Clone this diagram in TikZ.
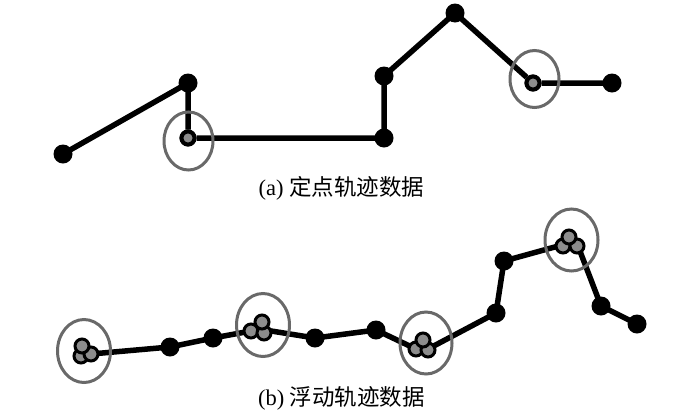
\documentclass[tikz,border=0pt]{standalone}
\usepackage{fontspec}
\setmainfont{Liberation Serif}
\newfontfamily\cjk{Noto Sans CJK SC}
\definecolor{ringgray}{RGB}{105,105,105}
\definecolor{ptgray}{RGB}{140,140,140}
\begin{document}
\begin{tikzpicture}[x = 1pt, y = -1pt, line width = 5pt]
    \tikzstyle{track} = [draw, line width = 5.5pt, line join = round]
    \tikzstyle{fixpt} = [fill = black, shape = circle, inner sep = 0pt, minimum size = 19pt]
    \tikzstyle{stoppt} = [draw = black, fill = ptgray, shape = circle, line width = 4pt, inner sep = 0pt, minimum size = 13pt]
    \tikzstyle{floatpt} = [draw = black, fill = ptgray, shape = circle, line width = 3pt, inner sep = 0pt, minimum size = 14pt]
    \tikzstyle{ring} = [draw = ringgray, line width = 3pt]
    \tikzstyle{caption} = [font = \fontsize{22.5}{26}\selectfont]
    \useasboundingbox (0,0) rectangle (700,413);

    % (a) fixed-point track
    \node[fixpt] (a1) at (63,154) {};
    \node[fixpt] (a2) at (188,83) {};
    \node[stoppt] (a3) at (188,138) {};
    \node[fixpt] (a4) at (384,138) {};
    \node[fixpt] (a5) at (384,76) {};
    \node[fixpt] (a6) at (455,13) {};
    \node[stoppt] (a7) at (533,83) {};
    \node[fixpt] (a8) at (612,83) {};

    \draw[track] (a1.center) -- (a2.center) -- (a3) -- (a4.center) -- (a5.center)
        -- (a6.center) -- (a7) -- (a8.center);
    \node[stoppt] at (a3) {};
    \node[stoppt] at (a7) {};
    \draw[ring] (188.5,141) ellipse (24.5 and 29);
    \draw[ring] (534.5,79) ellipse (24.5 and 28.5);

    \node[caption] (capa) at (341.5,188) {(a) {\cjk 定点轨迹数据}};

    % (b) floating track
    \node[fixpt] (b1) at (170,347) {};
    \node[fixpt] (b2) at (213,338) {};
    \node[fixpt] (b3) at (315,338) {};
    \node[fixpt] (b4) at (376,330) {};
    \node[fixpt] (b5) at (496,313) {};
    \node[fixpt] (b6) at (504,261) {};
    \node[fixpt] (b7) at (601,306) {};
    \node[fixpt] (b8) at (637,324) {};

    \coordinate (c1) at (91,354);
    \coordinate (c2in) at (251,331);
    \coordinate (c2out) at (265,330);
    \coordinate (c3in) at (416,349);
    \coordinate (c3out) at (428,349);
    \coordinate (c4in) at (562,245);
    \coordinate (c4out) at (578,246);

    \draw[track] (c1) -- (b1.center) -- (b2.center) -- (c2in);
    \draw[track] (c2out) -- (b3.center) -- (b4.center) -- (c3in);
    \draw[track] (c3out) -- (b5.center) -- (b6.center) -- (c4in);
    \draw[track] (c4out) -- (b7.center) -- (b8.center);

    \foreach \x/\y in {81/356, 91/354, 82/346,
                       251/331, 264/333, 262/322,
                       416/349, 428/350, 423/340,
                       563/246, 577/246, 569/237}
        \node[floatpt] at (\x,\y) {};

    \draw[ring] (84,351) ellipse (26.5 and 31.5);
    \draw[ring] (263,325) ellipse (26.5 and 31.5);
    \draw[ring] (426,343) ellipse (26 and 31);
    \draw[ring] (571.5,240) ellipse (26.5 and 31);

    \node[caption] (capb) at (341.5,398) {(b) {\cjk 浮动轨迹数据}};
\end{tikzpicture}
\end{document}
